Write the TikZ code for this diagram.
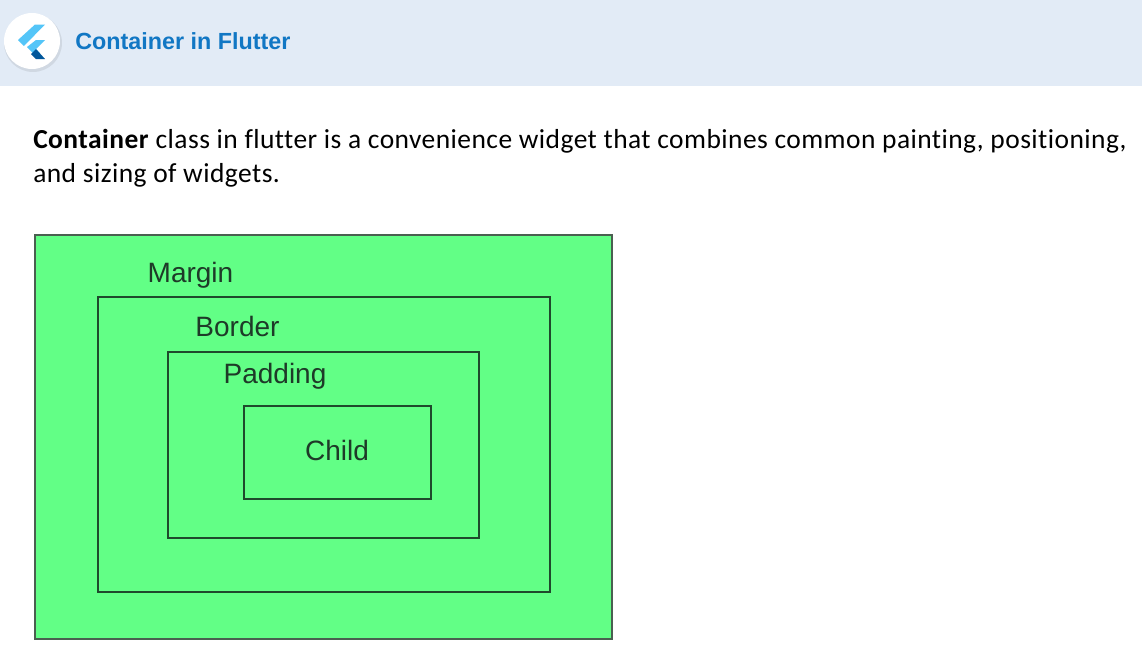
\documentclass[tikz,border=0pt]{standalone}
\usepackage{fontspec}
\setmainfont[Ligatures=NoCommon,LetterSpace=1.65]{Carlito}
\newfontfamily\headfont{Liberation Sans}
\definecolor{band}{HTML}{E2EBF6}
\definecolor{headblue}{HTML}{1177C4}
\definecolor{boxgreen}{HTML}{62FF86}
\definecolor{boxline}{HTML}{1F4A2C}
\definecolor{outerline}{HTML}{4A5F50}
\definecolor{lblue}{HTML}{54C5F8}
\definecolor{dblue}{HTML}{01579B}
\definecolor{inklabel}{HTML}{1E3A28}
\tikzset{
  px/.style={x=0.75pt,y=-0.75pt},
  boxr/.style={draw=boxline,line width=1.3pt,fill=boxgreen},
  lab/.style={font=\headfont\fontsize{21}{24}\selectfont,text=inklabel,inner sep=0pt},
  body/.style={font=\fontsize{20.6}{25}\selectfont,text=black,inner sep=0pt,anchor=base west},
}
\begin{document}
\begin{tikzpicture}[px]
\useasboundingbox (0,0) rectangle (1142,665);
\fill[white] (0,0) rectangle (1142,665);
\fill[band] (0,0) rectangle (1142,86);
\fill[black,opacity=.08] (33,43) circle (29);
\fill[white] (32,41) circle (28);
\fill[lblue] (35,24.5) -- (45,24.5) -- (24,46) -- (18,40) -- cycle;
\fill[lblue] (36,40) -- (45,40) -- (36,49) -- (40,53) -- (33,53) -- (27,47) -- cycle;
\fill[dblue] (36,49) -- (45,59) -- (36,59) -- (31,54) -- cycle;
\node[font=\headfont\bfseries\fontsize{17.5}{22}\selectfont,text=headblue,anchor=base west,inner sep=0pt] (title) at (75,49) {Container in Flutter};
\node[body] (l1) at (33,148) {\textbf{Container} class in flutter is a convenience widget that combines common painting, positioning,};
\node[body] (l2) at (33,182) {and sizing of widgets.};
\draw[boxr,draw=outerline] (35,235) rectangle (612,639);
\draw[boxr] (98,297) rectangle (550,592);
\draw[boxr] (168,352) rectangle (479,538);
\draw[boxr] (244,406) rectangle (431,499);
\node[lab] (margin) at (190.5,275) {Margin};
\node[lab] (border) at (237.5,326) {Border};
\node[lab] (padding) at (275,376) {Padding};
\node[lab] (child) at (337,450.5) {Child};
\end{tikzpicture}
\end{document}
